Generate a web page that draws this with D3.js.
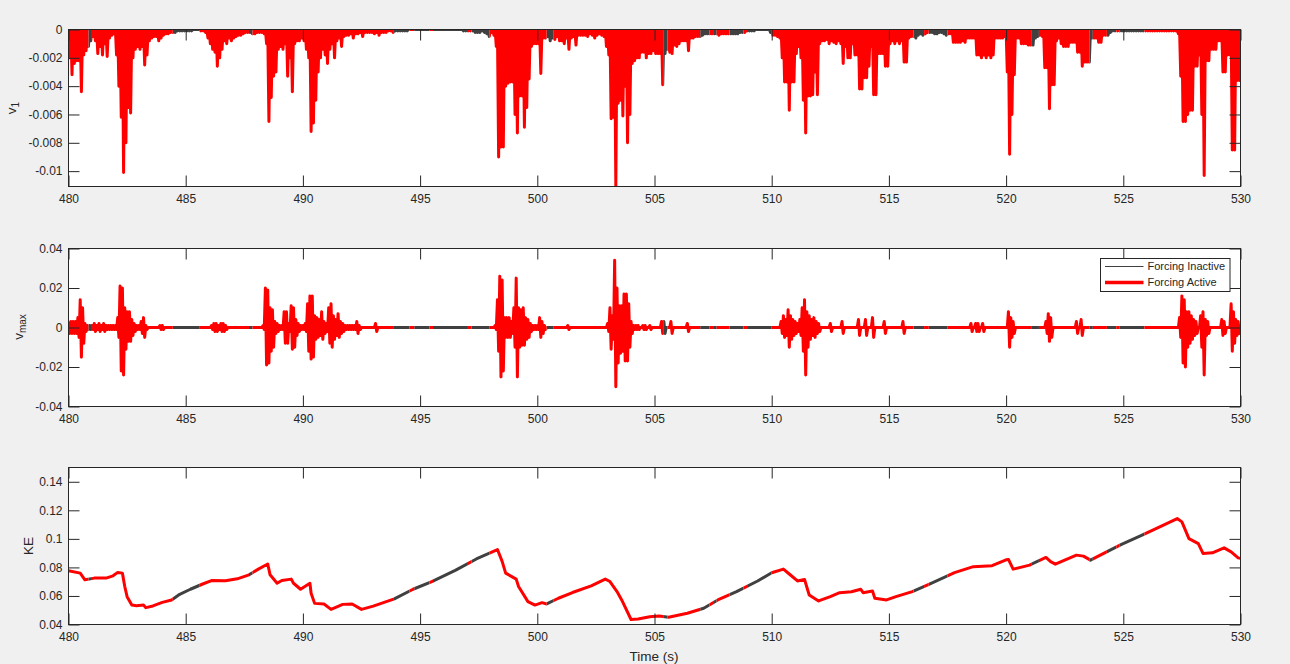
<!DOCTYPE html>
<html>
<head>
<meta charset="utf-8">
<script src="https://cdn.jsdelivr.net/npm/d3@7"></script>
<style>
  html, body { margin: 0; padding: 0; background: #f0f0f0; }
  svg { display: block; font-family: "Liberation Sans", Arial, Helvetica, sans-serif; }
</style>
</head>
<body>
<svg id="fig" width="1290" height="664"></svg>
<script>
// ---------------------------------------------------------------
// Data
// ---------------------------------------------------------------
const timeStart = 480;          // s
const binWidth = 0.1;           // s, one entry per bin below

// v1: deepest value reached in each 0.1 s bin, in units of 1e-4 (value = -depth*1e-4)
const v1Depth = [
  20, 32, 24, 22, 22, 44, 18, 15, 12, 8,      // 480
  5, 8, 17, 12, 18, 10, 19, 6, 4, 3,          // 481
  18, 40, 62, 101, 80, 55, 59, 20, 14, 12,    // 482
  14, 12, 25, 18, 8, 6, 5, 5, 8, 6,           // 483
  4, 3, 3, 2, 2, 2, 1, 1, 1, 1,               // 484
  1, 1, 1, 0, 0, 0, 1, 1, 2, 6,               // 485
  10, 14, 16, 26, 20, 14, 8, 10, 6, 8,        // 486
  6, 5, 4, 4, 3, 2, 2, 2, 3, 3,               // 487
  2, 2, 2, 3, 10, 65, 48, 33, 30, 14,         // 488
  12, 14, 10, 33, 20, 44, 10, 8, 8, 6,        // 489
  8, 14, 20, 72, 66, 50, 30, 20, 14, 18,      // 490
  24, 14, 10, 20, 8, 6, 12, 5, 4, 4,          // 491
  3, 6, 3, 3, 2, 5, 2, 2, 2, 2,               // 492
  3, 2, 4, 2, 2, 2, 1, 1, 2, 1,               // 493
  1, 1, 1, 1, 1, 0, 0, 0, 0, 0,               // 494
  0, 0, 0, 0, 0, 0, 0, 0, 0, 0,               // 495
  0, 0, 0, 0, 0, 0, 0, 0, 1, 1,               // 496
  1, 1, 1, 2, 2, 2, 1, 2, 3, 5,               // 497
  2, 4, 12, 90, 83, 83, 40, 38, 37, 37,       // 498
  60, 73, 47, 47, 69, 55, 35, 12, 10, 10,     // 499
  10, 31, 6, 6, 5, 8, 6, 7, 5, 8,             // 500
  8, 10, 6, 14, 6, 5, 11, 4, 4, 4,            // 501
  4, 5, 3, 4, 6, 4, 3, 4, 5, 12,              // 502
  18, 63, 62, 111, 52, 50, 61, 40, 80, 60,    // 503
  24, 22, 20, 20, 16, 16, 20, 17, 17, 15,     // 504
  17, 17, 17, 39, 17, 14, 16, 17, 11, 12,     // 505
  10, 8, 8, 8, 15, 6, 6, 5, 5, 5,             // 506
  4, 3, 3, 3, 3, 3, 3, 4, 3, 3,               // 507
  3, 3, 3, 3, 3, 3, 2, 2, 2, 1,               // 508
  1, 1, 1, 0, 0, 0, 0, 0, 0, 2,               // 509
  4, 4, 5, 6, 20, 37, 37, 57, 37, 37,         // 510
  17, 12, 20, 50, 73, 47, 47, 46, 30, 46,     // 511
  10, 8, 8, 7, 10, 8, 9, 10, 8, 10,           // 512
  24, 12, 20, 20, 10, 18, 18, 42, 42, 34,     // 513
  34, 26, 12, 46, 46, 17, 17, 17, 26, 26,     // 514
  10, 8, 10, 8, 10, 8, 23, 23, 6, 5,          // 515
  5, 6, 4, 3, 4, 3, 2, 2, 2, 3,               // 516
  3, 2, 2, 3, 4, 3, 3, 9, 9, 9,               // 517
  9, 8, 9, 6, 6, 6, 6, 18, 18, 20,            // 518
  18, 20, 18, 20, 18, 6, 6, 6, 6, 5,          // 519
  30, 88, 60, 32, 6, 6, 10, 10, 10, 11,       // 520
  11, 11, 6, 5, 4, 5, 27, 27, 56, 39,         // 521
  39, 8, 6, 10, 12, 12, 12, 9, 9, 9,          // 522
  16, 16, 26, 23, 23, 23, 6, 6, 6, 9,         // 523
  9, 4, 4, 4, 2, 1, 1, 1, 1, 1,               // 524
  1, 1, 1, 1, 1, 1, 1, 1, 1, 1,               // 525
  1, 1, 1, 1, 1, 1, 1, 1, 1, 1,               // 526
  1, 1, 1, 3, 33, 65, 65, 60, 57, 57,         // 527
  26, 26, 18, 60, 103, 22, 22, 14, 14, 14,    // 528
  8, 8, 30, 30, 18, 18, 85, 85, 36, 36        // 529
];

// v_max: highest and lowest value in each 0.1 s bin, in units of 1e-3
const vmaxHigh = [
  3, 3, 3, 3, 5, 14, 10, 2, 1, 1,     // 480
  1, 2, 1, 2, 1, 2, 1, 1, 1, 1,       // 481
  1, 5, 21, 20, 10, 8, 8, 4, 2, 1,    // 482
  1, 3, 5, 1, 0, 0, 0, 0, 0, 1,       // 483
  1, 0, 0, 0, 0, 0, 0, 0, 0, 0,       // 484
  0, 0, 0, 0, 0, 0, 0, 0, 0, 0,       // 485
  0, 1, 2, 2, 1, 2, 2, 1, 0, 0,       // 486
  0, 0, 0, 0, 0, 0, 0, 0, 0, 0,       // 487
  0, 0, 0, 1, 20, 19, 10, 9, 3, 2,    // 488
  1, 1, 8, 8, 2, 11, 10, 4, 2, 1,     // 489
  1, 2, 12, 16, 16, 6, 5, 4, 8, 3,    // 490
  2, 10, 12, 6, 4, 7, 3, 2, 1, 1,     // 491
  1, 1, 1, 3, 1, 0, 0, 0, 0, 0,       // 492
  0, 2, 0, 0, 0, 0, 0, 0, 0, 0,       // 493
  0, 0, 0, 0, 0, 0, 0, 0, 0, 0,       // 494
  0, 0, 0, 0, 0, 0, 0, 0, 0, 0,       // 495
  0, 0, 0, 0, 0, 0, 0, 0, 0, 0,       // 496
  0, 0, 0, 0, 0, 0, 0, 0, 0, 0,       // 497
  0, 0, 1, 14, 26, 24, 5, 5, 5, 3,    // 498
  10, 25, 10, 9, 10, 5, 4, 2, 1, 1,   // 499
  1, 5, 3, 1, 0, 0, 0, 0, 0, 0,       // 500
  0, 0, 0, 1, 0, 0, 0, 0, 0, 0,       // 501
  0, 0, 0, 0, 0, 0, 0, 0, 0, 0,       // 502
  2, 10, 6, 34, 20, 11, 11, 17, 17, 12, // 503
  3, 1, 1, 1, 0, 1, 1, 0, 1, 0,       // 504
  0, 0, 0, 3, 3, 0, 0, 3, 0, 0,       // 505
  0, 0, 0, 0, 2, 0, 0, 0, 0, 0,       // 506
  0, 0, 0, 0, 0, 0, 0, 0, 0, 0,       // 507
  0, 0, 0, 0, 0, 0, 0, 0, 0, 0,       // 508
  0, 0, 0, 0, 0, 0, 0, 0, 0, 0,       // 509
  0, 0, 0, 0, 3, 6, 4, 9, 6, 4,       // 510
  3, 2, 4, 10, 14, 8, 6, 4, 5, 3,     // 511
  2, 0, 0, 0, 0, 2, 0, 0, 0, 0,       // 512
  3, 0, 0, 0, 0, 0, 0, 4, 0, 0,       // 513
  4, 0, 0, 5, 0, 0, 0, 0, 3, 0,       // 514
  0, 0, 0, 0, 0, 0, 3, 0, 0, 0,       // 515
  0, 0, 0, 0, 0, 0, 0, 0, 0, 0,       // 516
  0, 0, 0, 0, 0, 0, 0, 0, 0, 0,       // 517
  0, 0, 0, 0, 0, 2, 0, 2, 2, 0,       // 518
  2, 0, 0, 0, 0, 0, 0, 0, 0, 0,       // 519
  0, 8, 5, 3, 0, 0, 0, 0, 0, 0,       // 520
  0, 0, 0, 0, 0, 0, 0, 3, 7, 5,       // 521
  0, 0, 0, 0, 0, 0, 0, 0, 0, 0,       // 522
  3, 0, 4, 0, 0, 0, 0, 0, 0, 0,       // 523
  0, 0, 0, 0, 0, 0, 0, 0, 0, 0,       // 524
  0, 0, 0, 0, 0, 0, 0, 0, 0, 0,       // 525
  0, 0, 0, 0, 0, 0, 0, 0, 0, 0,       // 526
  0, 0, 0, 0, 5, 16, 14, 8, 8, 6,     // 527
  4, 3, 0, 6, 8, 4, 3, 0, 0, 0,       // 528
  0, 0, 4, 3, 0, 0, 12, 8, 4, 3       // 529
];
const vmaxLow = [
  -3, -3, -3, -3, -5, -15, -8, -2, -1, -1,     // 480
  -1, -2, -1, -2, -1, -2, -1, -1, -1, -1,      // 481
  -1, -5, -22, -24, -11, -7, -7, -4, -2, -1,   // 482
  -1, -3, -5, -1, 0, 0, 0, 0, 0, -1,           // 483
  -1, 0, 0, 0, 0, 0, 0, 0, 0, 0,               // 484
  0, 0, 0, 0, 0, 0, 0, 0, 0, 0,                // 485
  0, -1, -2, -2, -1, -2, -2, -1, 0, 0,         // 486
  0, 0, 0, 0, 0, 0, 0, 0, 0, 0,                // 487
  0, 0, 0, -1, -19, -18, -12, -10, -3, -2,     // 488
  -1, -1, -8, -8, -2, -11, -10, -4, -2, -1,    // 489
  -1, -2, -12, -16, -15, -6, -5, -4, -6, -3,   // 490
  -2, -8, -10, -6, -4, -5, -3, -2, -1, -1,     // 491
  -1, -1, -1, -3, -1, 0, 0, 0, 0, 0,           // 492
  0, -2, 0, 0, 0, 0, 0, 0, 0, 0,               // 493
  0, 0, 0, 0, 0, 0, 0, 0, 0, 0,                // 494
  0, 0, 0, 0, 0, 0, 0, 0, 0, 0,                // 495
  0, 0, 0, 0, 0, 0, 0, 0, 0, 0,                // 496
  0, 0, 0, 0, 0, 0, 0, 0, 0, 0,                // 497
  0, 0, -1, -12, -25, -22, -5, -5, -5, -3,     // 498
  -10, -25, -10, -9, -9, -6, -5, -2, -1, -1,   // 499
  -1, -5, -3, -1, 0, 0, 0, 0, 0, 0,            // 500
  0, 0, 0, -1, 0, 0, 0, 0, 0, 0,               // 501
  0, 0, 0, 0, 0, 0, 0, 0, 0, 0,                // 502
  -2, -11, -6, -30, -18, -13, -12, -17, -17, -10, // 503
  -3, -1, -1, -1, 0, -1, -1, 0, -1, 0,         // 504
  0, 0, 0, -3, -3, 0, 0, -3, 0, 0,             // 505
  0, 0, 0, 0, -2, 0, 0, 0, 0, 0,               // 506
  0, 0, 0, 0, 0, 0, 0, 0, 0, 0,                // 507
  0, 0, 0, 0, 0, 0, 0, 0, 0, 0,                // 508
  0, 0, 0, 0, 0, 0, 0, 0, 0, 0,                // 509
  0, 0, 0, 0, -3, -5, -4, -10, -6, -4,         // 510
  -3, -2, -4, -12, -24, -10, -6, -4, -5, -3,   // 511
  -2, 0, 0, 0, 0, -2, 0, 0, 0, 0,              // 512
  -3, 0, 0, 0, 0, 0, 0, -4, 0, 0,              // 513
  -4, 0, 0, -5, 0, 0, 0, 0, -3, 0,             // 514
  0, 0, 0, 0, 0, 0, -3, 0, 0, 0,               // 515
  0, 0, 0, 0, 0, 0, 0, 0, 0, 0,                // 516
  0, 0, 0, 0, 0, 0, 0, 0, 0, 0,                // 517
  0, 0, 0, 0, 0, -2, 0, -2, -2, 0,             // 518
  -2, 0, 0, 0, 0, 0, 0, 0, 0, 0,               // 519
  0, -10, -5, -3, 0, 0, 0, 0, 0, 0,            // 520
  0, 0, 0, 0, 0, 0, 0, -3, -7, -5,             // 521
  0, 0, 0, 0, 0, 0, 0, 0, 0, 0,                // 522
  -3, 0, -4, 0, 0, 0, 0, 0, 0, 0,              // 523
  0, 0, 0, 0, 0, 0, 0, 0, 0, 0,                // 524
  0, 0, 0, 0, 0, 0, 0, 0, 0, 0,                // 525
  0, 0, 0, 0, 0, 0, 0, 0, 0, 0,                // 526
  0, 0, 0, 0, -5, -18, -20, -10, -8, -6,       // 527
  -4, -3, 0, -10, -24, -4, -3, 0, 0, 0,        // 528
  0, 0, -4, -3, 0, 0, -12, -8, -4, -3          // 529
];

// Kinetic energy
const keTime = [
  480.0, 480.5, 480.7, 481.1, 481.6, 481.9, 482.1, 482.3, 482.4, 482.5,
  482.7, 482.9, 483.2, 483.3, 483.6, 484.0, 484.4, 484.7, 485.2, 485.7,
  486.1, 486.7, 487.2, 487.7, 488.1, 488.5, 488.6, 488.9, 489.1, 489.5,
  489.6, 489.9, 490.3, 490.35, 490.5, 490.9, 491.2, 491.7, 492.1, 492.5,
  493.0, 493.9, 494.7, 495.5, 496.5, 497.4, 498.3, 498.5, 498.65, 499.1,
  499.2, 499.6, 499.9, 500.2, 500.4, 500.9, 501.5, 502.3, 502.9, 503.1,
  503.4, 503.6, 504.0, 504.3, 504.8, 505.2, 505.6, 506.4, 507.1, 507.7,
  508.5, 509.4, 510.0, 510.5, 510.8, 511.1, 511.4, 511.6, 512.0, 512.5,
  512.9, 513.4, 513.8, 513.9, 514.3, 514.4, 514.9, 515.3, 516.0, 516.8,
  517.8, 518.6, 519.4, 520.0, 520.1, 520.3, 521.0, 521.7, 521.9, 522.1,
  522.5, 523.0, 523.3, 523.6, 524.1, 524.9, 525.8, 526.6, 527.3, 527.5,
  527.8, 528.2, 528.4, 528.8, 529.3, 529.6, 529.9, 530.0
];
const keValue = [
  0.0776, 0.0760, 0.0713, 0.0725, 0.0725, 0.0741, 0.0765, 0.0760, 0.0666, 0.0595,
  0.0536, 0.0532, 0.0536, 0.0518, 0.0530, 0.0555, 0.0572, 0.0607, 0.0647, 0.0682,
  0.0708, 0.0706, 0.0720, 0.0748, 0.0788, 0.0824, 0.0748, 0.0689, 0.0708, 0.0718,
  0.0689, 0.0647, 0.0689, 0.0619, 0.0548, 0.0544, 0.0506, 0.0541, 0.0544, 0.0506,
  0.0529, 0.0579, 0.0647, 0.0701, 0.0779, 0.0859, 0.0925, 0.0842, 0.0760, 0.0718,
  0.0666, 0.0560, 0.0536, 0.0553, 0.0544, 0.0584, 0.0624, 0.0671, 0.0718, 0.0701,
  0.0631, 0.0572, 0.0435, 0.0438, 0.0454, 0.0459, 0.0451, 0.0479, 0.0514, 0.0572,
  0.0630, 0.0705, 0.0763, 0.0788, 0.0747, 0.0705, 0.0716, 0.0607, 0.0565, 0.0595,
  0.0623, 0.0630, 0.0647, 0.0623, 0.0635, 0.0584, 0.0572, 0.0595, 0.0630, 0.0688,
  0.0763, 0.0805, 0.0812, 0.0853, 0.0856, 0.0788, 0.0816, 0.0870, 0.0840, 0.0823,
  0.0851, 0.0886, 0.0879, 0.0851, 0.0893, 0.0960, 0.1026, 0.1088, 0.1142, 0.1119,
  0.1002, 0.0967, 0.0898, 0.0902, 0.0937, 0.0909, 0.0867, 0.0863
];

// Intervals (s) during which the forcing is switched off
const inactiveSpans = [
  [480.85, 481.0], [484.45, 485.6], [487.7, 487.85], [493.85, 494.55],
  [494.75, 495.4], [495.55, 497.0], [497.2, 497.95], [500.4, 500.7],
  [505.4, 505.55], [506.95, 507.35], [507.5, 507.65], [508.2, 508.8],
  [508.95, 510.0], [516.05, 516.5], [516.7, 517.5], [521.1, 521.4],
  [523.55, 523.7], [524.3, 524.7], [524.85, 525.9]
];

// Axis ticks
const timeTicks = [480, 485, 490, 495, 500, 505, 510, 515, 520, 525, 530];
const v1Ticks = [0, -0.002, -0.004, -0.006, -0.008, -0.01];
const v1TickLabels = ["0", "-0.002", "-0.004", "-0.006", "-0.008", "-0.01"];
const vmaxTicks = [0.04, 0.02, 0, -0.02, -0.04];
const vmaxTickLabels = ["0.04", "0.02", "0", "-0.02", "-0.04"];
const keTicks = [0.04, 0.06, 0.08, 0.1, 0.12, 0.14];
const keTickLabels = ["0.04", "0.06", "0.08", "0.1", "0.12", "0.14"];

const legendLabels = ["Forcing Inactive", "Forcing Active"];

// ---------------------------------------------------------------
// Layout & styles
// ---------------------------------------------------------------
const activeColor = "#ff0000";
const inactiveColor = "#404040";
const axisColor = "#262626";
const traceWidth = 3;

const svg = d3.select("#fig");
const x = d3.scaleLinear().domain([480, 530]).range([68.5, 1240.5]);

// complement of the inactive spans over the full time range
const activeSpans = [];
{
  let s = x.domain()[0];
  inactiveSpans.forEach(([a, b]) => { if (a > s) activeSpans.push([s, a]); s = b; });
  if (s < x.domain()[1]) activeSpans.push([s, x.domain()[1]]);
}

const defs = svg.append("defs");
function spanClip(id, spans) {
  const cp = defs.append("clipPath").attr("id", id);
  spans.forEach(([a, b]) => {
    cp.append("rect").attr("x", x(a)).attr("y", 0)
      .attr("width", x(b) - x(a)).attr("height", 664);
  });
}
spanClip("clip-active", activeSpans);
spanClip("clip-inactive", inactiveSpans);

function makePanel(id, top, bottom, yDomain, ticks, tickLabels, showXLabels) {
  const y = d3.scaleLinear().domain(yDomain).range([bottom, top]);
  const g = svg.append("g");
  // white plotting area
  g.append("rect").attr("x", x.range()[0]).attr("y", top)
    .attr("width", x.range()[1] - x.range()[0]).attr("height", bottom - top)
    .attr("fill", "#ffffff");
  defs.append("clipPath").attr("id", "plot-" + id).append("rect")
    .attr("x", x.range()[0]).attr("y", top)
    .attr("width", x.range()[1] - x.range()[0]).attr("height", bottom - top);
  const plot = g.append("g").attr("clip-path", `url(#plot-${id})`);
  const axes = g.append("g");
  return { y, g, plot, axes, top, bottom, ticks, tickLabels };
}

function drawAxes(p) {
  const tick = 11;
  const fmt = (d) => p.tickLabels[p.ticks.indexOf(d)];
  const ax = p.axes;
  ax.append("g").attr("transform", `translate(0,${p.bottom})`)
    .call(d3.axisBottom(x).tickValues(timeTicks).tickFormat(d3.format("d"))
      .tickSize(-tick).tickSizeOuter(0).tickPadding(8));
  ax.append("g").attr("transform", `translate(0,${p.top})`)
    .call(d3.axisTop(x).tickValues(timeTicks).tickFormat("")
      .tickSize(-tick).tickSizeOuter(0));
  ax.append("g").attr("transform", `translate(${x.range()[0]},0)`)
    .call(d3.axisLeft(p.y).tickValues(p.ticks).tickFormat(fmt)
      .tickSize(-tick).tickSizeOuter(0).tickPadding(6));
  ax.append("g").attr("transform", `translate(${x.range()[1]},0)`)
    .call(d3.axisRight(p.y).tickValues(p.ticks).tickFormat("")
      .tickSize(-tick).tickSizeOuter(0));
  ax.selectAll(".domain").remove();
  ax.selectAll(".tick line").attr("stroke", axisColor).attr("stroke-width", 1);
  ax.selectAll(".tick text").attr("fill", axisColor).attr("font-size", 12)
    .attr("font-family", '"Liberation Sans", Arial, sans-serif');
  // box
  ax.append("rect").attr("x", x.range()[0]).attr("y", p.top)
    .attr("width", x.range()[1] - x.range()[0]).attr("height", p.bottom - p.top)
    .attr("fill", "none").attr("stroke", axisColor).attr("stroke-width", 1);
}

function drawTrace(p, points) {
  const line = d3.line().x(d => x(d[0])).y(d => p.y(d[1]));
  p.plot.append("path").attr("d", line(points))
    .attr("fill", "none").attr("stroke", inactiveColor)
    .attr("stroke-width", traceWidth).attr("stroke-linejoin", "round")
    .attr("clip-path", "url(#clip-inactive)");
  p.plot.append("path").attr("d", line(points))
    .attr("fill", "none").attr("stroke", activeColor)
    .attr("stroke-width", traceWidth).attr("stroke-linejoin", "round")
    .attr("clip-path", "url(#clip-active)");
}

// ---------------------------------------------------------------
// Panel 1: v1
// ---------------------------------------------------------------
const p1 = makePanel("v1", 29.5, 186.5, [-0.011085, 0], v1Ticks, v1TickLabels);
{
  const pts = [];
  v1Depth.forEach((d, i) => {
    const t = timeStart + i * binWidth;
    pts.push([t, 0]);
    pts.push([t + binWidth / 2, -d * 1e-4]);
  });
  pts.push([timeStart + v1Depth.length * binWidth, 0]);
  drawTrace(p1, pts);
}
drawAxes(p1);

// ---------------------------------------------------------------
// Panel 2: v_max
// ---------------------------------------------------------------
const p2 = makePanel("vmax", 248.5, 406.5, [-0.04, 0.04], vmaxTicks, vmaxTickLabels);
{
  const pts = [];
  vmaxHigh.forEach((h, i) => {
    const t = timeStart + i * binWidth;
    pts.push([t, h * 1e-3]);
    pts.push([t + binWidth / 2, vmaxLow[i] * 1e-3]);
  });
  pts.push([timeStart + vmaxHigh.length * binWidth, 0]);
  drawTrace(p2, pts);
}
drawAxes(p2);

// legend
{
  const lg = svg.append("g").attr("transform", "translate(1100.5,258.5)");
  lg.append("rect").attr("width", 129.5).attr("height", 33)
    .attr("fill", "#ffffff").attr("stroke", axisColor).attr("stroke-width", 1);
  const rows = [
    { label: legendLabels[0], color: inactiveColor, width: 1, y: 8 },
    { label: legendLabels[1], color: activeColor, width: 3.5, y: 24 }
  ];
  rows.forEach(r => {
    lg.append("line").attr("x1", 4.5).attr("x2", 43).attr("y1", r.y).attr("y2", r.y)
      .attr("stroke", r.color).attr("stroke-width", r.width);
    lg.append("text").attr("x", 47).attr("y", r.y).attr("dy", "0.35em")
      .attr("font-size", 11).attr("fill", axisColor).text(r.label);
  });
}

// ---------------------------------------------------------------
// Panel 3: KE
// ---------------------------------------------------------------
const p3 = makePanel("ke", 467.5, 624.5, [0.04, 0.15], keTicks, keTickLabels);
drawTrace(p3, keTime.map((t, i) => [t, keValue[i]]));
drawAxes(p3);

// ---------------------------------------------------------------
// Axis labels
// ---------------------------------------------------------------
function yLabel(xPos, yPos, main, sub) {
  const t = svg.append("text")
    .attr("transform", `translate(${xPos},${yPos}) rotate(-90)`)
    .attr("text-anchor", "middle").attr("font-size", 13.5).attr("fill", axisColor);
  t.append("tspan").text(main);
  if (sub) t.append("tspan").attr("font-size", 10).attr("dy", 3).text(sub);
}
yLabel(16, 108, "v", "1");
yLabel(23, 327, "v", "max");
yLabel(32.5, 546, "KE");

svg.append("text").attr("x", 654).attr("y", 661).attr("text-anchor", "middle")
  .attr("font-size", 13.5).attr("fill", axisColor).text("Time (s)");
</script>
</body>
</html>
